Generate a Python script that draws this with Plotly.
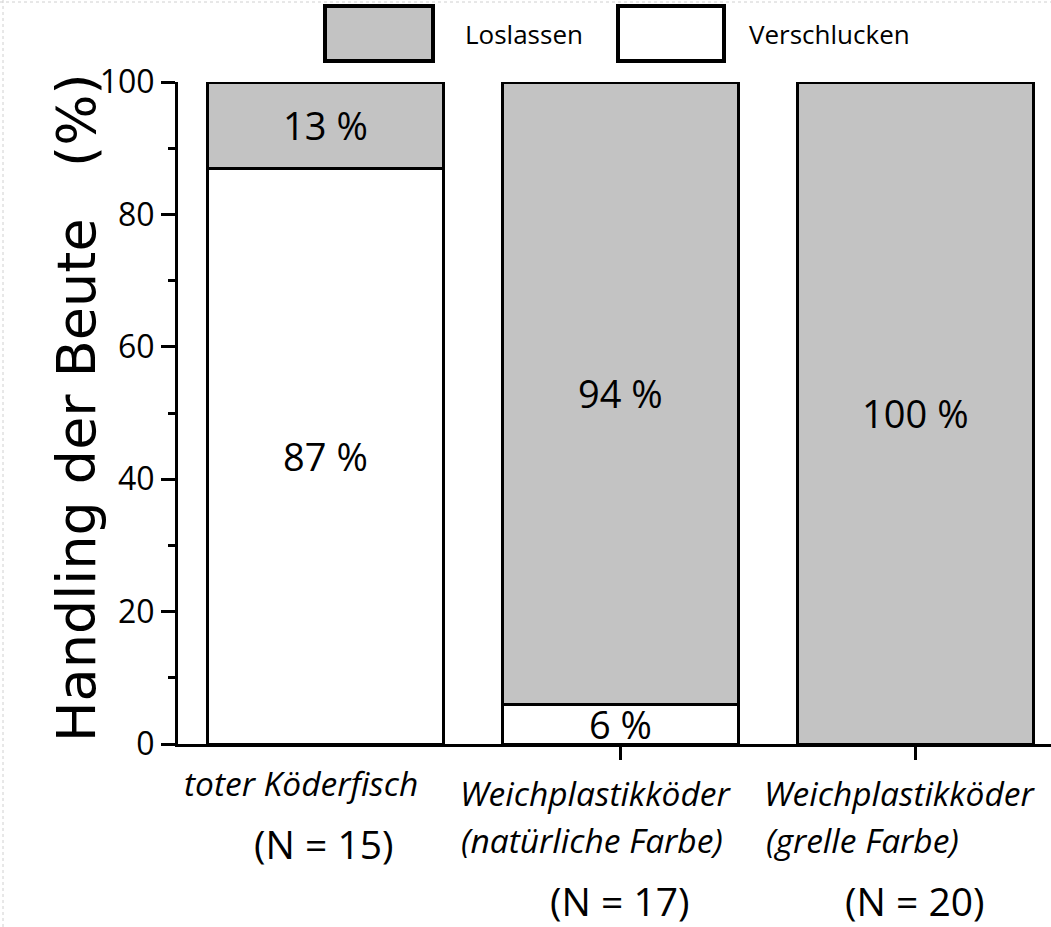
import plotly.graph_objects as go

# daten
kategorien = [0, 1, 2]
verschlucken = [87, 6, 0]
loslassen = [13, 94, 100]

# beschriftungen unter den balken
label_zeile1 = ["toter Köderfisch", "Weichplastikköder", "Weichplastikköder"]
label_zeile2 = ["", "(natürliche Farbe)", "(grelle Farbe)"]
label_n = ["(N = 15)", "(N = 17)", "(N = 20)"]

grau = "#c3c3c3"
schrift = "Open Sans"

# geometrie (pixel), body-rand wird unten auf 0 gesetzt
W, H = 1051, 927
L, R, T, B = 178, 0, 82, 927 - 744
pw, ph = W - L - R, H - T - B


def px_x(p):
    return (p - L) / pw


def px_y(p):
    return (H - B - p) / ph


def txt(werte):
    return [f"{v} %" if v else "" for v in werte]


fig = go.Figure()

for name, werte, farbe in [("Verschlucken", verschlucken, "white"),
                           ("Loslassen", loslassen, grau)]:
    fig.add_trace(go.Bar(
        x=kategorien, y=werte, name=name,
        marker=dict(color=farbe, line=dict(color="black", width=3)),
        text=txt(werte), textposition="inside", insidetextanchor="middle",
        constraintext="none",
        textfont=dict(size=38, color="black", family=schrift),
        width=0.8, showlegend=False,
    ))

# beschriftungen der kategorien
annos = []
pos1 = [(301, 783), (596, 793), (900, 793)]
pos2 = [(None, None), (592, 840), (764, 840)]
posn = [(324, 843), (620, 900), (915, 900)]
for i in range(3):
    annos.append(dict(
        x=px_x(pos1[i][0]), y=px_y(pos1[i][1]), xref="paper", yref="paper",
        text=f"<i>{label_zeile1[i]}</i>", showarrow=False,
        xanchor="center", yanchor="middle",
        font=dict(size=33.5, family=schrift, color="black"),
    ))
    if label_zeile2[i]:
        annos.append(dict(
            x=px_x(pos2[i][0]), y=px_y(pos2[i][1]), xref="paper", yref="paper",
            text=f"<i>{label_zeile2[i]}</i>", showarrow=False,
            xanchor="left" if i == 2 else "center", yanchor="middle",
            font=dict(size=33.5, family=schrift, color="black"),
        ))
    annos.append(dict(
        x=px_x(posn[i][0]), y=px_y(posn[i][1]), xref="paper", yref="paper",
        text=label_n[i], showarrow=False,
        xanchor="center", yanchor="middle",
        font=dict(size=39, family=schrift, color="black"),
    ))

# y-achsentitel
annos.append(dict(
    x=px_x(76), y=px_y(408), xref="paper", yref="paper",
    text="Handling der Beute\u00a0\u00a0\u00a0(%)", textangle=-90, showarrow=False,
    xanchor="center", yanchor="middle",
    font=dict(size=54, family="DejaVu Sans", color="black"),
))

# legende von hand
shapes = [
    dict(type="rect", xref="paper", yref="paper",
         x0=px_x(325), x1=px_x(433), y0=px_y(61), y1=px_y(6),
         fillcolor=grau, line=dict(color="black", width=4)),
    dict(type="rect", xref="paper", yref="paper",
         x0=px_x(618), x1=px_x(724), y0=px_y(61), y1=px_y(6),
         fillcolor="white", line=dict(color="black", width=4)),
    # gepunkteter seitenrand
    dict(type="line", xref="paper", yref="paper",
         x0=px_x(3), x1=px_x(3), y0=px_y(0), y1=px_y(H),
         line=dict(color="#d0d0d0", width=1, dash="dot")),
    dict(type="line", xref="paper", yref="paper",
         x0=px_x(0), x1=px_x(W), y0=px_y(2), y1=px_y(2),
         line=dict(color="#d0d0d0", width=1, dash="dot")),
]
annos.append(dict(x=px_x(463), y=px_y(34), xref="paper", yref="paper",
                  text="Loslassen", showarrow=False, xanchor="left", yanchor="middle",
                  font=dict(size=26, family=schrift, color="black")))
annos.append(dict(x=px_x(747), y=px_y(34), xref="paper", yref="paper",
                  text="Verschlucken", showarrow=False, xanchor="left", yanchor="middle",
                  font=dict(size=26, family=schrift, color="black")))

fig.update_layout(
    width=W, height=H,
    margin=dict(l=L, r=R, t=T, b=B),
    barmode="stack",
    plot_bgcolor="white", paper_bgcolor="white",
    annotations=annos, shapes=shapes,
    xaxis=dict(
        range=[-0.5, 2.46], showgrid=False, zeroline=False,
        showline=True, linecolor="black", linewidth=3,
        tickvals=[1, 2], ticks="outside", ticklen=13, tickwidth=3, tickcolor="black",
        showticklabels=False,
    ),
    yaxis=dict(
        range=[0, 100], showgrid=False, zeroline=False,
        showline=True, linecolor="black", linewidth=3,
        dtick=20, ticks="outside", ticklen=14, tickwidth=3, tickcolor="black",
        tickfont=dict(size=32, family=schrift, color="black"),
        minor=dict(dtick=10, ticks="outside", ticklen=7, tickwidth=3, tickcolor="black"),
    ),
)

fig.write_html("out.html", config={"displayModeBar": False},
               post_script="document.body.style.margin = '0';")
